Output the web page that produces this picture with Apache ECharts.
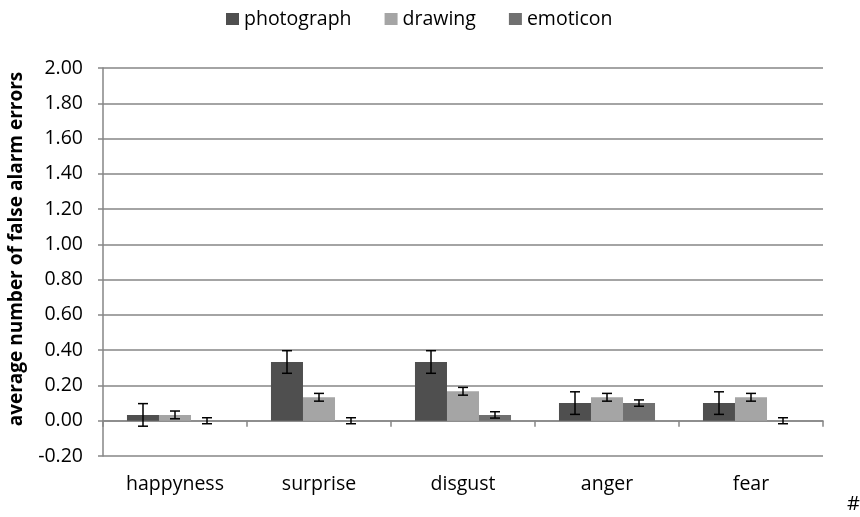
<!DOCTYPE html>
<html>
<head>
<meta charset="utf-8">
<script src="https://cdn.jsdelivr.net/npm/echarts@6/dist/echarts.min.js"></script>
<style>
  html, body { margin: 0; padding: 0; background: #fff; }
  #chart { width: 860px; height: 517px; }
</style>
</head>
<body>
<div id="chart"></div>
<script>
// categories and values
var categories = ['happyness', 'surprise', 'disgust', 'anger', 'fear'];
var photograph = [0.033, 0.333, 0.333, 0.1, 0.1];
var drawing = [0.033, 0.133, 0.167, 0.133, 0.133];
var emoticon = [0, 0, 0.033, 0.1, 0];
var photographErr = [0.064, 0.064, 0.064, 0.064, 0.064];
var drawingErr = [0.022, 0.022, 0.022, 0.022, 0.022];
var emoticonErr = [0.017, 0.017, 0.018, 0.018, 0.017];
var seriesNames = ['photograph', 'drawing', 'emoticon'];
var colors = ['#4f4f4f', '#a5a5a5', '#707070'];

var FONT = '"Open Sans", "Noto Sans", sans-serif';
var chart = echarts.init(document.getElementById('chart'));

// error bar series, shifted to sit on top of bar k
function errorSeries (k, values, errs) {
  var data = values.map(function (v, i) { return [i, v - errs[i], v + errs[i]]; });
  return {
    type: 'custom',
    name: seriesNames[k] + ' err',
    silent: true,
    z: 10,
    data: data,
    renderItem: function (params, api) {
      var i = api.value(0);
      var lo = api.coord([i, api.value(1)]);
      var hi = api.coord([i, api.value(2)]);
      var band = api.size([1, 0])[0];
      var bw = band * (2 / 3) / 3;
      var x = lo[0] + (k - 1) * bw;
      var cap = 5;
      var style = { stroke: '#000', lineWidth: 1.5 };
      return {
        type: 'group',
        children: [
          { type: 'line', shape: { x1: x, y1: lo[1], x2: x, y2: hi[1] }, style: style },
          { type: 'line', shape: { x1: x - cap, y1: lo[1], x2: x + cap, y2: lo[1] }, style: style },
          { type: 'line', shape: { x1: x - cap, y1: hi[1], x2: x + cap, y2: hi[1] }, style: style }
        ]
      };
    }
  };
}

var option = {
  animation: false,
  textStyle: { fontFamily: FONT },
  legend: {
    top: 4,
    left: 221,
    data: seriesNames,
    icon: 'rect',
    itemWidth: 13,
    itemHeight: 12,
    itemGap: 33,
    textStyle: { fontSize: 19.5, color: '#000', fontFamily: FONT }
  },
  grid: { left: 103, right: 37, top: 68, bottom: 61, outerBoundsMode: 'none', containLabel: false },
  xAxis: {
    type: 'category',
    data: categories,
    axisLine: { onZero: true, lineStyle: { color: '#868686', width: 1.5 } },
    axisTick: { show: true, length: 6, lineStyle: { color: '#868686', width: 1.5 } },
    axisLabel: { margin: 18, fontSize: 19.5, color: '#000', fontFamily: FONT },
    splitLine: { show: false }
  },
  yAxis: {
    type: 'value',
    min: -0.2,
    max: 2,
    interval: 0.2,
    name: 'average number of false alarm errors',
    nameLocation: 'middle',
    nameGap: 77,
    nameTextStyle: { fontSize: 19, fontWeight: 'bold', color: '#000', fontFamily: FONT, padding: [0, 0, 0, 26] },
    axisLine: { show: true, lineStyle: { color: '#868686', width: 1.5 } },
    axisTick: { show: true, length: 5, lineStyle: { color: '#868686', width: 1.5 } },
    axisLabel: {
      fontSize: 19.5, color: '#000', margin: 20, fontFamily: FONT,
      formatter: function (v) { return v.toFixed(2); }
    },
    splitLine: { lineStyle: { color: '#868686', width: 1.5 } }
  },
  series: [
    { name: 'photograph', type: 'bar', data: photograph, barGap: 0, barCategoryGap: '33.3%',
      itemStyle: { color: colors[0] } },
    { name: 'drawing', type: 'bar', data: drawing, barGap: 0, barCategoryGap: '33.3%',
      itemStyle: { color: colors[1] } },
    { name: 'emoticon', type: 'bar', data: emoticon, barGap: 0, barCategoryGap: '33.3%',
      itemStyle: { color: colors[2] } },
    errorSeries(0, photograph, photographErr),
    errorSeries(1, drawing, drawingErr),
    errorSeries(2, emoticon, emoticonErr)
  ],
  graphic: [
    { type: 'text', left: 847, top: 494, style: { text: '#', fill: '#000', font: '20px ' + FONT } }
  ]
};
chart.setOption(option);
</script>
</body>
</html>
